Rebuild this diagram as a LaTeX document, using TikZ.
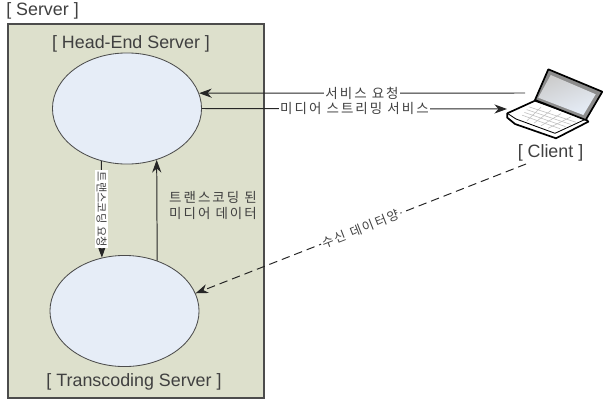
\documentclass[tikz,border=0pt]{standalone}
\usepackage{fontspec}
\setmainfont{Liberation Sans}
\newfontfamily\krfont[LetterSpace=15]{Noto Sans CJK KR}
\newfontfamily\krtight{Noto Sans CJK KR}
\usepackage{xcolor}
\usetikzlibrary{arrows.meta, shapes.geometric, positioning, calc}
\definecolor{panelgreen}{HTML}{DDE0CC}
\definecolor{discblue}{HTML}{E6EDF7}
\definecolor{labelgray}{HTML}{404040}
\tikzset{
  server/.style={ellipse, draw=black!70, fill=discblue, line width=0.6pt, minimum width=106pt, minimum height=79pt, inner sep=0pt},
  title/.style={text=labelgray, font=\fontsize{12.7}{15}\selectfont, inner sep=0pt},
  msg/.style={text=labelgray, font=\krfont\fontsize{9.6}{11}\selectfont, inner sep=1pt, align=center},
  link/.style={line width=0.7pt, black!85},
}

\begin{document}
\begin{tikzpicture}[>={Stealth[length=9pt,width=6.5pt]}, x=0.025cm, y=-0.025cm]
  \useasboundingbox (0,0) rectangle (603,401);

  % server panel
  \draw[fill=panelgreen, draw=black!70, line width=0.8pt] (8,24) rectangle (264,398);
  \node[title, anchor=west] (servertitle) at (6,11) {[ Server ]};
  \node[title] (headtitle) at (131,44) {[ Head-End Server ]};
  \node[title] (transtitle) at (134,382) {[ Transcoding Server ]};

  \node[server] (head) at (127,108.5) {};
  \node[server] (trans) at (124.5,311) {};

  % laptop
  \begin{scope}[line join=round]
    % base
    \draw[fill=white, line width=1.2pt] (535,100.7) -- (507.3,113.3) -- (507.3,117.7) -- (515,124) -- (556,138.3) -- (588.3,121.7) -- (585.7,119) -- cycle;
    \draw[line width=0.6pt] (507.3,113.3) -- (516,119) -- (555,133.3) -- (586,119);
    \foreach \t in {0.2,0.4,0.6,0.8} {
      \draw[black!25, line width=0.4pt] ($(531,104)!\t!(520,118)$) -- ($(581,120)!\t!(555,131)$);
      \draw[black!25, line width=0.4pt] ($(531,104)!\t!(581,120)$) -- ($(520,118)!\t!(555,131)$);
    }
    % lid
    \draw[fill=black!45, line width=1.2pt] (548.3,69.3) -- (602.3,91.7) -- (585.7,120) -- (535,100) -- cycle;
    \shade[top color=black!20, bottom color=discblue, shading angle=20] (550.7,75) -- (595.7,94.3) -- (583.3,115) -- (538.3,97.7) -- cycle;
  \end{scope}
  \node[title] (clienttitle) at (550.5,153) {[ Client ]};
  \coordinate (clientreq) at (525,93);
  \coordinate (clientmedia) at (507,109);
  \coordinate (clientdata) at (526,164);

  % connectors
  \draw[link, ->] (clientreq) -- (head.12) node[msg, midway, fill=white] {서비스 요청};
  \draw[link, ->] (head.0) -- (clientmedia) node[msg, midway, fill=white] {미디어 스트리밍 서비스};
  \draw[link, ->] (head.-116) -- (trans.113) node[msg, midway, fill=white, rotate=-90, font=\krtight\fontsize{8}{11}\selectfont] {트랜스코딩 요청};
  \draw[link, ->] (trans.57) -- (head.-60);
  \node[msg] (donelabel) at (213,205.5) {트랜스코딩 된\\미디어 데이터};
  \draw[link, dash pattern=on 6pt off 3.5pt, ->] (clientdata) -- (trans.14) node[msg, midway, fill=white, sloped, font=\krfont\fontsize{9}{11}\selectfont] {수신 데이터양};
\end{tikzpicture}
\end{document}
